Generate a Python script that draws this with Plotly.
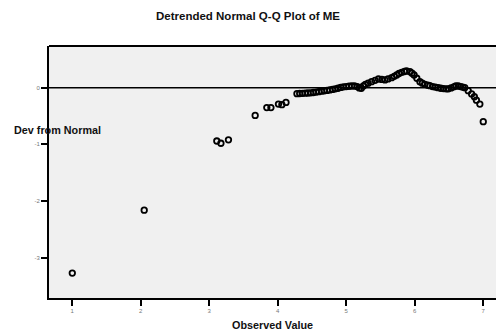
import plotly.graph_objects as go

# Observed values (x) and deviation from normal (y)
observed = [1.00, 2.05, 3.11, 3.17, 3.28, 3.67, 3.84, 3.90, 4.01, 4.06, 4.12,
            4.28, 4.32, 4.36, 4.40, 4.44, 4.48, 4.52, 4.56, 4.60, 4.64, 4.68,
            4.72, 4.76, 4.80, 4.84, 4.88, 4.92, 4.96, 5.00, 5.04, 5.08, 5.12,
            5.16, 5.19, 5.22, 5.25, 5.28, 5.32, 5.37, 5.42, 5.47, 5.52, 5.565,
            5.61, 5.663, 5.70, 5.736, 5.77, 5.81, 5.85, 5.88, 5.93, 5.96, 5.99,
            6.03, 6.075, 6.11, 6.148, 6.19, 6.22, 6.26, 6.30, 6.34, 6.38, 6.42,
            6.46, 6.49, 6.53, 6.57, 6.60, 6.635, 6.67, 6.70, 6.73, 6.78, 6.83,
            6.87, 6.90, 6.95, 7.00]
deviation = [-3.27, -2.16, -0.94, -0.98, -0.92, -0.49, -0.35, -0.35, -0.29, -0.30, -0.26,
             -0.105, -0.103, -0.100, -0.097, -0.094, -0.090, -0.085, -0.078, -0.070, -0.062, -0.055,
             -0.048, -0.040, -0.030, -0.020, -0.010, 0.005, 0.015, 0.020, 0.025, 0.030, 0.030,
             0.020, -0.005, -0.010, 0.030, 0.060, 0.080, 0.106, 0.130, 0.153, 0.145, 0.136,
             0.155, 0.176, 0.200, 0.224, 0.250, 0.270, 0.285, 0.295, 0.282, 0.255, 0.224,
             0.166, 0.106, 0.080, 0.060, 0.045, 0.035, 0.020, 0.010, 0.000, -0.010, -0.015,
             -0.020, -0.020, -0.005, 0.015, 0.030, 0.030, 0.020, 0.010, 0.000, -0.053, -0.110,
             -0.160, -0.220, -0.290, -0.600]

x_ticks = [1, 2, 3, 4, 5, 6, 7]
y_ticks = [-3, -2, -1, 0]

FONT = "Liberation Sans, Arial"

fig = go.Figure()
fig.add_trace(go.Scatter(
    x=observed, y=deviation, mode="markers",
    marker=dict(symbol="circle-open", size=5.5, color="black", line=dict(width=1.8, color="black")),
    showlegend=False, hoverinfo="skip"))

fig.add_hline(y=0, line=dict(color="black", width=1.5))
fig.add_shape(type="line", xref="paper", yref="paper", x0=0, x1=1, y0=1, y1=1,
              line=dict(color="black", width=2))

fig.add_annotation(text="<b>Dev from Normal</b>", xref="paper", yref="y",
                   x=-0.083, y=-0.75, xanchor="left", yanchor="middle", showarrow=False,
                   font=dict(family=FONT, size=10.8, color="#111"))

fig.update_layout(
    width=496, height=336,
    margin=dict(l=49, r=0, t=46, b=38),
    paper_bgcolor="white", plot_bgcolor="#f0f0f0",
    title=dict(text="<b>Detrended Normal Q-Q Plot of ME</b>", x=0.5, xanchor="center",
               y=1 - 16 / 336, yanchor="middle",
               font=dict(family=FONT, size=11.5, color="#111")),
    xaxis=dict(range=[0.66, 7.186], tickvals=x_ticks, ticktext=[str(v) for v in x_ticks],
               showgrid=False, zeroline=False, showline=True, linecolor="black", linewidth=2,
               ticks="outside", ticklen=6, tickwidth=2, tickcolor="black",
               tickfont=dict(family=FONT, size=6, color="#777"),
               title=dict(text="<b>Observed Value</b>", standoff=8,
                          font=dict(family=FONT, size=10.8, color="#111"))),
    yaxis=dict(range=[-3.709, 0.735], tickvals=y_ticks, ticktext=[str(v) for v in y_ticks],
               showgrid=False, zeroline=False, showline=True, linecolor="black", linewidth=2,
               ticks="outside", ticklen=6, tickwidth=2, tickcolor="black",
               tickfont=dict(family=FONT, size=6, color="#777")),
)

fig.write_html("out.html", config={"displayModeBar": False},
               post_script="document.body.style.margin='0';document.body.style.overflow='hidden';")
